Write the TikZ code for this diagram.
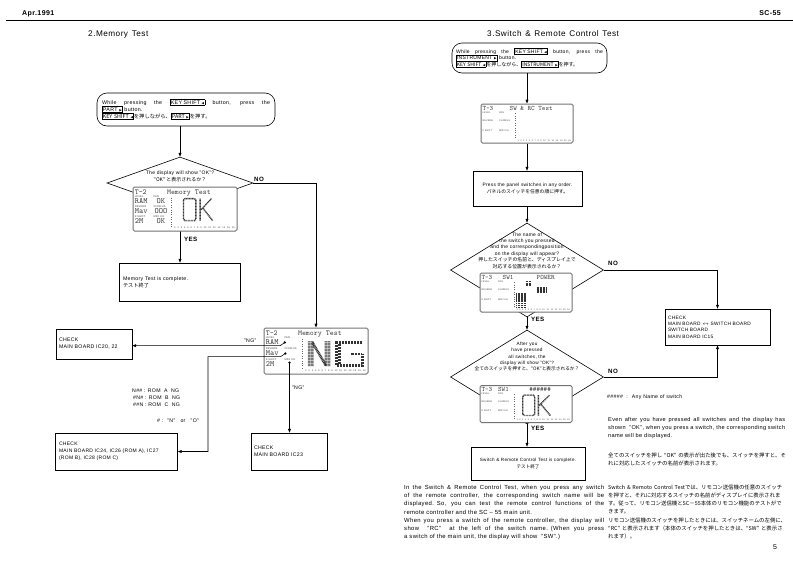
\documentclass[tikz,border=0pt]{standalone}
\usepackage{fontspec}
\setmainfont{Liberation Sans}[LetterSpace=6]
\newfontfamily\jp{Noto Sans CJK JP}
\newfontfamily\dv{DejaVu Sans}
\usetikzlibrary{shapes.geometric,arrows.meta}
\newcommand\fsz[2]{\fontsize{#1}{#2}\selectfont}
\newcommand\kb[1]{{\setlength\fboxsep{0.5pt}\setlength\fboxrule{0.45pt}\fbox{\rule{0pt}{0.75em}#1}}}
\newcommand\lar{{\dv\fontsize{3.2}{3.2}\selectfont ◀}}
\newcommand\rar{{\dv\fontsize{3.2}{3.2}\selectfont ▶}}
\newcommand\sline[2]{\leavevmode\hbox to #1pt{\spaceskip=0.28em plus 1fil\relax #2}}
\newcommand\widesp{\spaceskip=0.45em plus 0.1em\relax}
\tikzset{
 every node/.style={inner sep=0pt},
 box/.style={draw, line width=0.6pt, inner sep=3pt, align=left, font=\fsz{5.2}{7}},
 rbox/.style={box, rounded corners=10pt, inner sep=4pt},
 dia/.style={diamond, draw, line width=0.6pt, inner sep=0pt},
 dtext/.style={align=center},
 arr/.style={-{Triangle[length=3.8pt,width=2.8pt]}, line width=0.6pt},
 lab/.style={anchor=base west, font=\bfseries\fsz{6.2}{7}},
 note/.style={anchor=base west, font=\fsz{5.2}{7}},
 para/.style={anchor=north west, align=left, font=\fsz{5.6}{8.2}},
 title/.style={anchor=base west, font=\fsz{8.2}{9}},
 lcdframe/.style={draw=black!55, line width=1pt, rounded corners=1.5pt, fill=white, inner sep=0pt},
 lcdt/.style={font=\ttfamily\fontsize{\lT}{\lT}\selectfont, anchor=base west, text=black!75},
 lcds/.style={font=\fontsize{\lS}{\lS}\selectfont, anchor=base west, text=black!75},
 lcdv/.style={font=\ttfamily\fontsize{\lV}{\lV}\selectfont, anchor=base west, text=black!75},
 lcdnum/.style={font=\fontsize{\lN}{\lN}\selectfont, anchor=base west, text=black!75},
 lcddot/.style={dotted, line width=0.4pt, black!60},
 dotm/.style={line width=1.4pt, dash pattern=on 0.9pt off 0.6pt, black!80},
 dotmb/.style={line width=2.6pt, dash pattern=on 0.9pt off 0.6pt, black!80},
 lcdloc/.style n args={3}{shift={(#1.north west)}, xscale=#2/100, yscale=#3/40},
}
% name, x, y, w, h, fontscale, T label, title x, title
\newcommand\lcdpanel[9]{%
 \pgfmathsetmacro\lT{7.5*#6}%
 \pgfmathsetmacro\lS{2.6*#6}%
 \pgfmathsetmacro\lV{8*#6}%
 \pgfmathsetmacro\lN{2.4*#6}%
 \pgfmathsetmacro\lW{0.58*#4}%
 \node[lcdframe, minimum width=#4pt, minimum height=#5pt] (#1) at (#2,#3) {};
 \begin{scope}[lcdloc={#1}{#4}{#5}]
  \node[lcdt] (#1-t) at (2,7) {#7};
  \node[lcdt] (#1-n) at (#8,7) {#9};
  \node[lcds] (#1-a) at (2,9.8) {LEVEL};
  \node[lcds] (#1-b) at (20,9.8) {PAN};
  \node[lcds] (#1-c) at (2,18.8) {REVERB};
  \node[lcds] (#1-d) at (20,18.8) {CHORUS};
  \node[lcds] (#1-e) at (2,28.3) {K SHIFT};
  \node[lcds] (#1-f) at (20,28.3) {MIDI CH};
  \draw[lcddot] (37.5,10) -- (37.5,36.5);
  \node[lcdnum] (#1-g) at (40,38.6) {\makebox[\lW pt][s]{1 2 3 4 5 6 7 8 9 10 11 12 13 14 15 16}};
 \end{scope}}

\begin{document}
\begin{tikzpicture}[x=1pt,y=-1pt]
\useasboundingbox[fill=white] (0,0) rectangle (793,560);
% header
\node[anchor=base west, font=\bfseries\fsz{7}{8}] (hdate) at (22,15) {Apr.1991};
\node[anchor=base east, font=\bfseries\fsz{7}{8}] (hmodel) at (781,15) {SC-55};
\coordinate (hl) at (6,20.5);
\coordinate (hr) at (793,20.5);
\draw[line width=0.8pt] (hl) -- (hr);
\node[title] (t2) at (88,36) {\widesp 2.Memory Test};
\node[title] (t3) at (487,36) {\widesp 3.Switch \& Remote Control Test};

% ---------------- left: memory test
\node[rbox, minimum width=178pt, minimum height=33pt, text width=168pt, font=\fsz{5.3}{7}] (kbox1) at (186,109.5)
 {\sline{168}{While pressing the \kb{KEY SHIFT \lar} button, press the}\\
  \kb{PART \rar} button.\\
  {\jp\kb{KEY SHIFT \lar}を押しながら、\kb{PART \rar}を押す。}};
\node[dia, minimum width=146pt, minimum height=52pt] (dia1) at (180,183) {};
\node[dtext, font=\fsz{5}{7}] (dia1t) at (180,176) {The display will show "OK"?\\{\jp “OK” と表示されるか？}};
\node[box, minimum width=121pt, minimum height=38pt, text width=113pt, inner sep=4pt] (done1) at (179.5,282)
 {Memory Test is complete.\\{\jp テスト終了}};
\node[box, minimum width=76pt, minimum height=30pt, text width=70pt, inner sep=3pt] (chk1) at (94,344)
 {CHECK\\MAIN BOARD IC20, 22};
\node[box, minimum width=121pt, minimum height=37pt, text width=117pt, inner sep=2.5pt, font=\fsz{5}{7}] (chk2) at (116.5,451.5)
 {\hspace*{1pt}CHECK\\\hspace*{1pt}MAIN BOARD IC24, IC26 (ROM A), IC27\\\hspace*{1pt}(ROM B), IC28 (ROM C)};
\node[box, minimum width=76pt, minimum height=37pt, text width=70pt, inner sep=3pt] (chk3) at (289,451.5)
 {CHECK\\MAIN BOARD IC23};
\node[note] (rom1) at (132,392) {N\#\# : ROM~~A~~NG};
\node[note] (rom2) at (133,399) {\#N\# : ROM~~B~~NG};
\node[note] (rom3) at (133,406) {\#\#N : ROM~~C~~NG};
\node[note] (rom4) at (157,422) {\# : ~"N" ~~or~~ "O"};
\node[note] (ng1) at (244,342) {"NG"};
\node[note] (ng2) at (292,389) {"NG"};

% NG LCD
\lcdpanel{lcd2}{316}{351}{104}{46}{1}{T-2}{33}{Memory Test}
\begin{scope}[lcdloc={lcd2}{104}{46}]
 \node[lcdv] (lcd2-v1) at (2,15) {RAM};
 \node[lcdv] (lcd2-v3) at (2,24.5) {Mav};
 \node[lcdv] (lcd2-v5) at (2,34) {2M};
 \coordinate (ramdot) at (20.5,13);
 \coordinate (ramknee) at (16,15.8);
 \coordinate (chdot) at (21,22.6);
 \coordinate (chknee) at (16.5,25.3);
 \coordinate (mididot) at (25,30.5);
 \draw[dotmb] (44,12) -- (44,34) (47,12) -- (47,34) (47,13) -- (60,33) (60,12) -- (60,34) (63,12) -- (63,34);
 \draw[dotmb] (95,13) -- (70,13) -- (70,33) -- (95,33) -- (95,23) -- (84,23);
 \draw[dotmb] (73,14) -- (73,32);
\end{scope}
\coordinate (chx) at (208,0);

% connectors left
\draw[arr] (kbox1.south -| dia1.north) -- (dia1.north);
\draw[arr] (dia1.south) -- (dia1.south |- done1.north);
\draw[arr] (dia1.east) -| (lcd2.north);
\draw[arr] (ramdot) -- (ramknee) -- (ramknee -| chk1.east);
\draw[arr] (chdot) -- (chknee) -- (chknee -| chx) |- (chk2.east);
\draw[arr] (mididot) -- (mididot |- chk3.north);
\fill (ramdot) circle (1.3pt) (chdot) circle (1.3pt) (mididot) circle (1.3pt);

% OK LCD (over diamond)
\lcdpanel{lcd1}{185}{209}{104}{44}{1}{T-2}{33}{Memory Test}
\begin{scope}[lcdloc={lcd1}{104}{44}]
 \node[lcdv] (lcd1-v1) at (2,15) {RAM};
 \node[lcdv] (lcd1-v2) at (23,15) {OK};
 \node[lcdv] (lcd1-v3) at (2,24.5) {Mav};
 \node[lcdv] (lcd1-v4) at (21,24.5) {OOO};
 \node[lcdv] (lcd1-v5) at (2,34) {2M};
 \node[lcdv] (lcd1-v6) at (23,34) {OK};
 \draw[dotm, rounded corners=1.5pt] (49,11) rectangle (61,31);
 \draw[dotm] (65,11) -- (65,31) (66,21) -- (76,11) (68,20) -- (77,31);
\end{scope}
\node[lab] (yes1) at (184,241) {YES};
\node[lab] (no1) at (254,181) {NO};

% ---------------- right: switch test
\node[rbox, minimum width=155pt, minimum height=30pt, text width=147pt, font=\fsz{5}{6.5}] (kbox2) at (529.5,58)
 {\sline{147}{While pressing the \kb{KEY SHIFT \lar} button, press the}\\
  \kb{INSTRUMENT \rar} button.\\
  {\jp\kb{KEY SHIFT \lar}を押しながら、\kb{INSTRUMENT \rar}を押す。}};
\node[box, minimum width=109pt, minimum height=35pt, align=center, font=\fsz{4.8}{7}] (press) at (527.5,188.5)
 {Press the panel switches in any order.\\{\jp パネルのスイッチを任意の順に押す。}};
\node[dia, minimum width=153pt, minimum height=94pt] (dia2) at (527,270) {};
\node[dtext, font=\fsz{4.9}{6.4}] (dia2t) at (527,250.5)
 {The name of\\the switch you pressed\\and the correspondingposition\\on the display will appear?\\
  {\jp 押したスイッチの名前と、ディスプレイ上で}\\{\jp 対応する位置が表示されるか？}};
\node[dia, minimum width=153pt, minimum height=94pt] (dia3) at (527,377) {};
\node[dtext, font=\fsz{4.7}{6.2}] (dia3t) at (527,356.5)
 {After you\\have pressed\\all switches, the\\display will show "OK"?\\{\jp 全てのスイッチを押すと、“OK”と表示されるか？}};
\node[box, minimum width=105pt, minimum height=36pt, text width=99pt, inner sep=3pt, font=\fsz{4.8}{6.4}] (chk4) at (717.5,327)
 {CHECK\\MAIN BOARD $\leftrightarrow$ SWITCH BOARD\\SWITCH BOARD\\MAIN BOARD IC15};
\node[box, minimum width=114pt, minimum height=33pt, align=center, font=\fsz{4.6}{7}] (done2) at (528,463.5)
 {Switch \& Remote Control Test is complete.\\{\jp テスト終了}};

\lcdpanel{lcd3}{527}{123.5}{92}{39}{0.9}{T-3}{31.5}{SW \& RC Test}

\draw[arr] (kbox2.south -| dia2.north) -- (dia2.north |- lcd3.north);
\draw[arr] (dia2.north |- lcd3.south) -- (dia2.north |- press.north);
\draw[arr] (dia2.north |- press.south) -- (dia2.north);
\draw[arr] (dia2.south) -- (dia3.north);
\draw[arr] (dia2.east) -| (chk4.north);
\draw[arr] (dia3.east) -| (chk4.south);
\draw[arr] (dia3.south) -- (dia3.south |- done2.north);

\lcdpanel{lcd4}{526}{292.5}{92}{39}{0.9}{T-3}{25}{SW1}
\begin{scope}[lcdloc={lcd4}{92}{39}]
 \node[lcdt] (lcd4-p) at (62,7) {POWER};
 \draw[dotm] (50,9) -- (56.5,9) (50,11) -- (56.5,11) (50,13) -- (56.5,13);
 \draw[dotm] (62,16) -- (72,16) (62,18) -- (72,18) (62,20) -- (72,20);
 \draw[dotm] (40,22) -- (51,22) (40,24) -- (51,24) (40,26) -- (51,26) (40,28) -- (51,28)
   (40,30) -- (51,30) (40,32) -- (51,32) (40,34) -- (51,34) (40,36) -- (51,36);
\end{scope}
\lcdpanel{lcd5}{526}{404}{92}{37}{0.9}{T-3}{20}{SW1}
\begin{scope}[lcdloc={lcd5}{92}{37}]
 \node[lcdt] (lcd5-p) at (54,7) {\#\#\#\#\#\#};
 \draw[dotm, rounded corners=1.5pt] (47,11) rectangle (60,33);
 \draw[dotm] (64,11) -- (64,33) (65,22) -- (76,11) (67,21) -- (77,33);
\end{scope}

\node[lab] (yes2) at (531,321) {YES};
\node[lab] (no2) at (608,265) {NO};
\node[lab] (yes3) at (531,430) {YES};
\node[lab] (no3) at (608,373) {NO};
\node[note] (anyname) at (607,398) {\#\#\#\#\# ~:~ Any Name of switch};

% paragraphs
\node[para, text width=180pt] (pE) at (608,417)
 {\sline{177}{Even after you have pressed all switches and the display has}\\
  \sline{177}{shown \ "OK", when you press a switch, the corresponding switch}\\
  name will be displayed.};
\node[para, text width=230pt, font=\jp\fsz{5.4}{8.2}] (pJ1) at (608,453)
 {全てのスイッチを押し~“OK”~の表示が出た後でも、スイッチを押すと、そ\\れに対応したスイッチの名前が表示されます。};
\node[para, text width=202pt, font=\fsz{5.9}{8.2}] (p1) at (404,485)
 {\sline{200}{In the Switch \& Remote Control Test, when you press any switch}\\
  \sline{200}{of the remote controller, the corresponding switch name will be}\\
  \sline{200}{displayed. So, you can test the remote control functions of the}\\
  remote controller and the SC – 55 main unit.\\
  \sline{200}{When you press a switch of the remote controller, the display will}\\
  \sline{200}{show \ "RC" \ at the left of the switch name. (When you press}\\
  a switch of the main unit, the display will show \ "SW".)};
\node[para, text width=230pt, font=\jp\fsz{5.4}{8.2}] (pJ2) at (608,484.5)
 {Switch \& Remoto Control Testでは、リモコン送信機の任意のスイッチ\\
  を押すと、それに対応するスイッチの名前がディスプレイに表示されま\\
  す。従って、リモコン送信機とSC－55本体のリモコン機能のテストがで\\
  きます。\\
  リモコン送信機のスイッチを押したときには、スイッチネームの左側に、\\
  “RC”~と表示されます（本体のスイッチを押したときは、“SW”~と表示さ\\
  れます）。};
\node[anchor=base west, font=\fsz{7}{8}] (pg) at (773,549) {5};
\end{tikzpicture}
\end{document}
